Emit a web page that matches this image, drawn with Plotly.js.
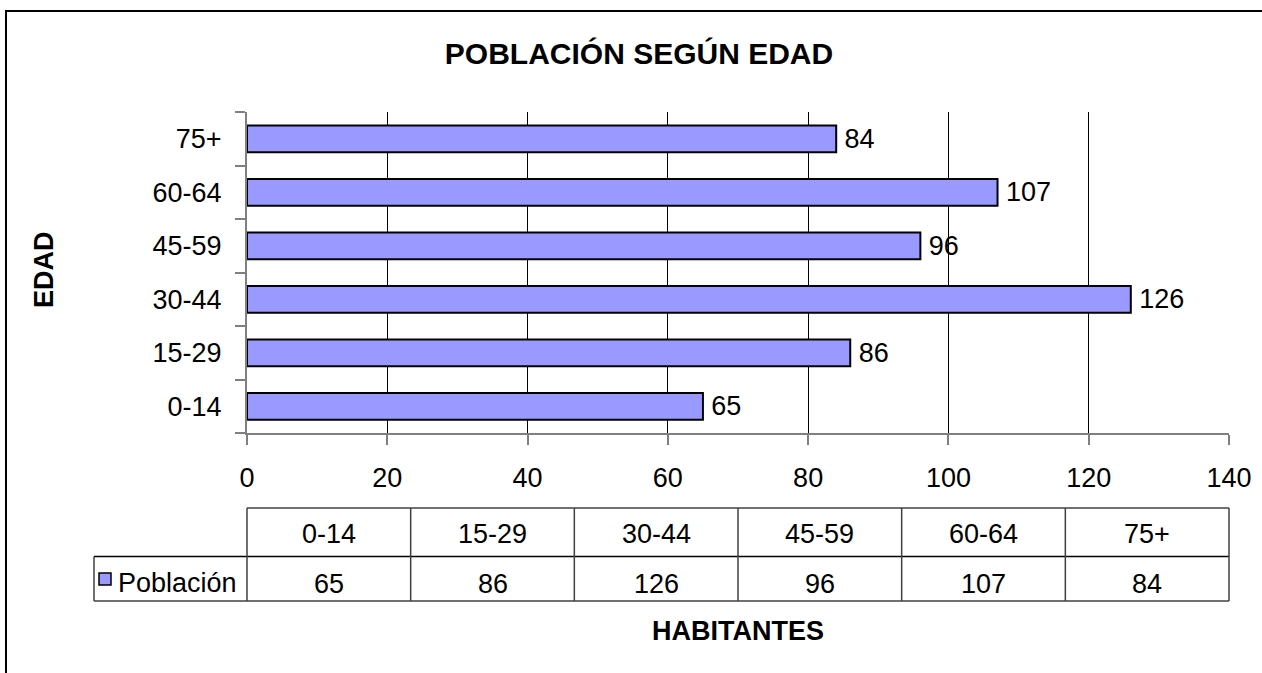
<!DOCTYPE html>
<html>
<head>
<meta charset="utf-8">
<script src="https://cdn.plot.ly/plotly-3.0.1.min.js"></script>
<style>
body{margin:0;background:#fff;overflow:hidden}
#frame{position:absolute;left:5px;top:10px;width:1400px;height:800px;border-top:2px solid #000;border-left:2px solid #000;pointer-events:none}
</style>
</head>
<body>
<div id="myPlot" style="width:1262px;height:673px"></div>
<div id="frame"></div>
<script>
// Data
const ageGroups = ['0-14', '15-29', '30-44', '45-59', '60-64', '75+'];
const population = [65, 86, 126, 96, 107, 84];
const seriesName = 'Población';

// plot area in pixels: x 247..1229, y 112..433 -> paper coords
const px = v => (v - 247) / 982;
const py = v => (433 - v) / 321;
const lineCol = '#404040';
const fs = 27;

const data = [{
  type: 'bar',
  orientation: 'h',
  y: ageGroups,
  x: population,
  name: seriesName,
  marker: {color: '#9999ff', line: {color: '#000', width: 2}},
  text: population.map(v => '\u2009' + v),
  textposition: 'outside',
  constraintext: 'none',
  cliponaxis: false,
  textfont: {size: fs, color: '#000'},
  showlegend: false
}];

const hline = (x0, x1, y, color) => ({type: 'line', xref: 'paper', yref: 'paper',
  x0: x0, x1: x1, y0: py(y), y1: py(y), line: {color: color, width: 1.5}});

// data table under the chart
const shapes = [
  hline(0, 1, 508, lineCol),
  hline(px(94), 1, 556.5, '#000'),
  hline(px(94), 1, 601, lineCol),
  {type: 'line', xref: 'paper', yref: 'paper', x0: px(94), x1: px(94), y0: py(556.5), y1: py(601), line: {color: lineCol, width: 1.5}},
  // legend key
  {type: 'rect', xref: 'paper', yref: 'paper', x0: px(99), x1: px(111), y0: py(573), y1: py(585),
   fillcolor: '#9999ff', line: {color: '#000', width: 1.5}}
];
for (let i = 0; i <= ageGroups.length; i++) {
  shapes.push({type: 'line', xref: 'paper', yref: 'paper', x0: i / ageGroups.length, x1: i / ageGroups.length,
    y0: py(508), y1: py(601), line: {color: lineCol, width: 1.5}});
}

const annotations = [
  {text: '<b>EDAD</b>', xref: 'paper', yref: 'paper', x: px(44), y: py(270), textangle: -90,
   xanchor: 'center', yanchor: 'middle', showarrow: false, font: {size: fs}},
  {text: '<b>HABITANTES</b>', xref: 'paper', yref: 'paper', x: 0.5, y: py(631),
   xanchor: 'center', yanchor: 'middle', showarrow: false, font: {size: fs}},
  {text: seriesName, xref: 'paper', yref: 'paper', x: px(239), y: py(583), xanchor: 'right', yanchor: 'middle',
   showarrow: false, font: {size: fs}}
];
ageGroups.forEach((g, i) => {
  annotations.push({text: g, xref: 'paper', yref: 'paper', x: (i + 0.5) / ageGroups.length, y: py(534),
    xanchor: 'center', yanchor: 'middle', showarrow: false, font: {size: fs}});
  annotations.push({text: String(population[i]), xref: 'paper', yref: 'paper', x: (i + 0.5) / ageGroups.length, y: py(584),
    xanchor: 'center', yanchor: 'middle', showarrow: false, font: {size: fs}});
});

const layout = {
  width: 1262,
  height: 673,
  margin: {l: 247, r: 33, t: 112, b: 240, pad: 0},
  paper_bgcolor: '#fff',
  plot_bgcolor: '#fff',
  font: {family: 'Liberation Sans, Arial, sans-serif', size: fs, color: '#000'},
  title: {text: 'POBLACIÓN SEGÚN EDAD', font: {size: 30, weight: 'bold'},
          xref: 'container', x: 639 / 1262, yref: 'container', y: 1 - 53 / 673, yanchor: 'middle'},
  bargap: 0.5,
  xaxis: {
    range: [0, 140], dtick: 20, tick0: 0,
    showgrid: true, gridcolor: '#000', gridwidth: 1,
    zeroline: false, showline: true, linecolor: '#808080', linewidth: 2,
    ticks: 'outside', ticklen: 10, tickcolor: '#808080', tickwidth: 2,
    ticklabelstandoff: 10, fixedrange: true
  },
  yaxis: {
    type: 'category',
    showgrid: false, zeroline: false, showline: true, linecolor: '#808080', linewidth: 2,
    ticks: 'outside', tickson: 'boundaries', ticklen: 10, tickcolor: '#808080', tickwidth: 2,
    ticklabelstandoff: 18, fixedrange: true
  },
  shapes: shapes,
  annotations: annotations
};

Plotly.newPlot('myPlot', data, layout, {displayModeBar: false, staticPlot: true});
</script>
</body>
</html>
